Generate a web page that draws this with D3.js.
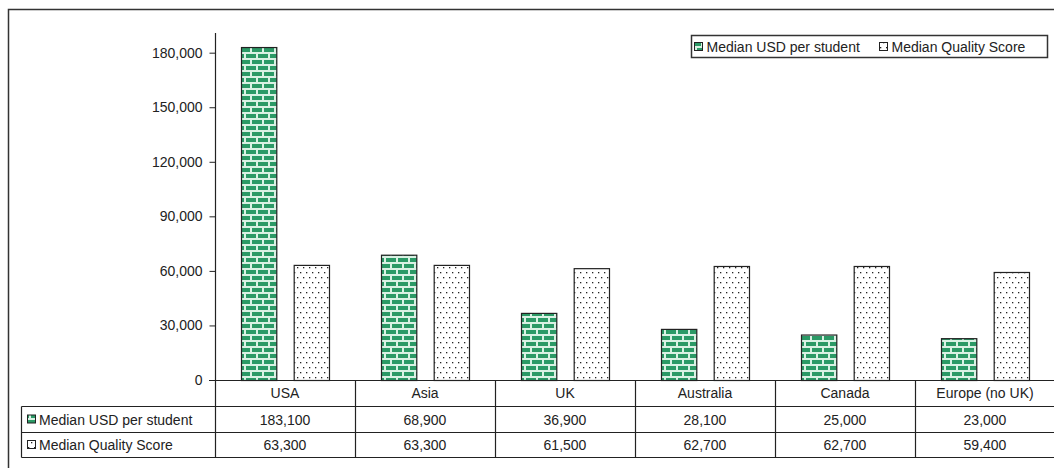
<!DOCTYPE html>
<html>
<head>
<meta charset="utf-8">
<script src="https://cdn.jsdelivr.net/npm/d3@7"></script>
<style>
  html, body { margin: 0; padding: 0; background: #fff; }
  svg { display: block; font-family: "Liberation Sans", Arial, sans-serif; }
</style>
</head>
<body>
<svg id="chart" width="1054" height="468"></svg>
<script>
// Median spend per student vs. median quality score, by region
const categories = ["USA", "Asia", "UK", "Australia", "Canada", "Europe (no UK)"];
const seriesNames = ["Median USD per student", "Median Quality Score"];
const usdPerStudent = [183100, 68900, 36900, 28100, 25000, 23000];
const qualityScore = [63300, 63300, 61500, 62700, 62700, 59400];
const yTicks = [0, 30000, 60000, 90000, 120000, 150000, 180000];

const series = [
  { key: "usd", name: seriesNames[0], values: usdPerStudent, fill: "url(#brick)", stroke: "#222" },
  { key: "quality", name: seriesNames[1], values: qualityScore, fill: "url(#dots)", stroke: "#222" }
];

const svg = d3.select("#chart");
const fmt = d3.format(",");
const textColor = "#222";
const fontSize = 14;

// Patterns: green brick and sparse dot fill
const defs = svg.append("defs");
const brick = defs.append("pattern")
  .attr("id", "brick").attr("patternUnits", "userSpaceOnUse")
  .attr("width", 12).attr("height", 12);
brick.append("rect").attr("width", 12).attr("height", 12).attr("fill", "#d9f2e4");
brick.append("rect").attr("x", 1).attr("y", 0).attr("width", 10).attr("height", 4).attr("fill", "#2b9a66");
brick.append("rect").attr("x", -5).attr("y", 6).attr("width", 10).attr("height", 4).attr("fill", "#2b9a66");
brick.append("rect").attr("x", 7).attr("y", 6).attr("width", 10).attr("height", 4).attr("fill", "#2b9a66");

const dots = defs.append("pattern")
  .attr("id", "dots").attr("patternUnits", "userSpaceOnUse")
  .attr("width", 6).attr("height", 10);
dots.append("rect").attr("width", 6).attr("height", 10).attr("fill", "#fff");
dots.append("rect").attr("x", 1).attr("y", 2).attr("width", 1.3).attr("height", 1.3).attr("fill", "#222");
dots.append("rect").attr("x", 4).attr("y", 7).attr("width", 1.3).attr("height", 1.3).attr("fill", "#222");

// Outer chart frame (runs past the visible edge)
svg.append("rect")
  .attr("x", 8.5).attr("y", 9.5).attr("width", 1100).attr("height", 500)
  .attr("fill", "none").attr("stroke", "#333").attr("stroke-width", 1.5);

// Scales
const x0 = d3.scaleBand().domain(categories).range([215, 1055]).paddingInner(0).paddingOuter(0);
const x1 = d3.scaleBand().domain(series.map(s => s.key)).range([26, 114]).paddingInner(0.33);
const y = d3.scaleLinear().domain([0, 190000]).range([380, 34.5]);

// Y axis
const yAxis = d3.axisLeft(y).tickValues(yTicks).tickFormat(fmt).tickSizeOuter(0).tickSize(6).tickPadding(7);
const gy = svg.append("g").attr("transform", "translate(215.5,0)").call(yAxis);
gy.select(".domain").remove();
gy.selectAll(".tick line").attr("stroke", "#222");
gy.selectAll(".tick text").attr("fill", textColor).attr("font-size", fontSize)
  .attr("font-family", "'Liberation Sans', Arial, sans-serif");

// Bars
const groups = svg.append("g").selectAll("g")
  .data(categories).join("g")
  .attr("transform", d => `translate(${x0(d)},0)`);

series.forEach(s => {
  groups.append("rect")
    .attr("x", (d, i) => x1(s.key) + 0.5)
    .attr("y", (d, i) => y(s.values[i]) + 0.5)
    .attr("width", x1.bandwidth())
    .attr("height", (d, i) => y(0) - y(s.values[i]))
    .attr("fill", s.fill)
    .attr("stroke", s.stroke)
    .attr("stroke-width", 1.2);
});

// Data table below the plot
const rowTop = [380, 406.5, 432.5, 457.5];
const tableLeft = 21.5;
const grid = svg.append("g").attr("stroke", "#222").attr("stroke-width", 1.2);
// Y axis line extending through the table
grid.append("line").attr("x1", 215.5).attr("x2", 215.5).attr("y1", 33).attr("y2", rowTop[3]);
// Baseline / category row top
grid.append("line").attr("x1", 209).attr("x2", 1054).attr("y1", rowTop[0] + 0.5).attr("y2", rowTop[0] + 0.5);
[1, 2, 3].forEach(r => {
  grid.append("line").attr("x1", tableLeft).attr("x2", 1054).attr("y1", rowTop[r]).attr("y2", rowTop[r]);
});
grid.append("line").attr("x1", tableLeft).attr("x2", tableLeft).attr("y1", rowTop[1]).attr("y2", rowTop[3]);
categories.slice(1).forEach(c => {
  grid.append("line").attr("x1", Math.round(x0(c)) + 0.5).attr("x2", Math.round(x0(c)) + 0.5)
    .attr("y1", rowTop[0]).attr("y2", rowTop[3]);
});

const txt = svg.append("g").attr("fill", textColor).attr("font-size", fontSize);
// Category labels
txt.selectAll("text.cat").data(categories).join("text")
  .attr("class", "cat")
  .attr("x", d => x0(d) + x0.bandwidth() / 2)
  .attr("y", (rowTop[0] + rowTop[1]) / 2 + 5)
  .attr("text-anchor", "middle")
  .text(d => d);

// Value rows with series keys
series.forEach((s, r) => {
  const top = rowTop[r + 1], bottom = rowTop[r + 2];
  const mid = (top + bottom) / 2;
  svg.append("rect").attr("x", 27.5).attr("y", mid - 4.5).attr("width", 8).attr("height", 8)
    .attr("fill", s.fill).attr("stroke", "#222").attr("stroke-width", 1);
  txt.append("text").attr("x", 39).attr("y", mid + 5).text(s.name);
  txt.selectAll(null).data(categories).join("text")
    .attr("x", d => x0(d) + x0.bandwidth() / 2)
    .attr("y", mid + 5)
    .attr("text-anchor", "middle")
    .text((d, i) => fmt(s.values[i]));
});

// Legend
const legend = svg.append("g");
legend.append("rect").attr("x", 691.5).attr("y", 35.5).attr("width", 356).attr("height", 22)
  .attr("fill", "#fff").attr("stroke", "#333").attr("stroke-width", 1.5);
const legendX = [694.5, 879.5];
series.forEach((s, i) => {
  legend.append("rect").attr("x", legendX[i]).attr("y", 42.5).attr("width", 8).attr("height", 8)
    .attr("fill", s.fill).attr("stroke", "#222").attr("stroke-width", 1);
  legend.append("text").attr("x", legendX[i] + 12).attr("y", 51.5)
    .attr("fill", textColor).attr("font-size", fontSize).text(s.name);
});
</script>
</body>
</html>
